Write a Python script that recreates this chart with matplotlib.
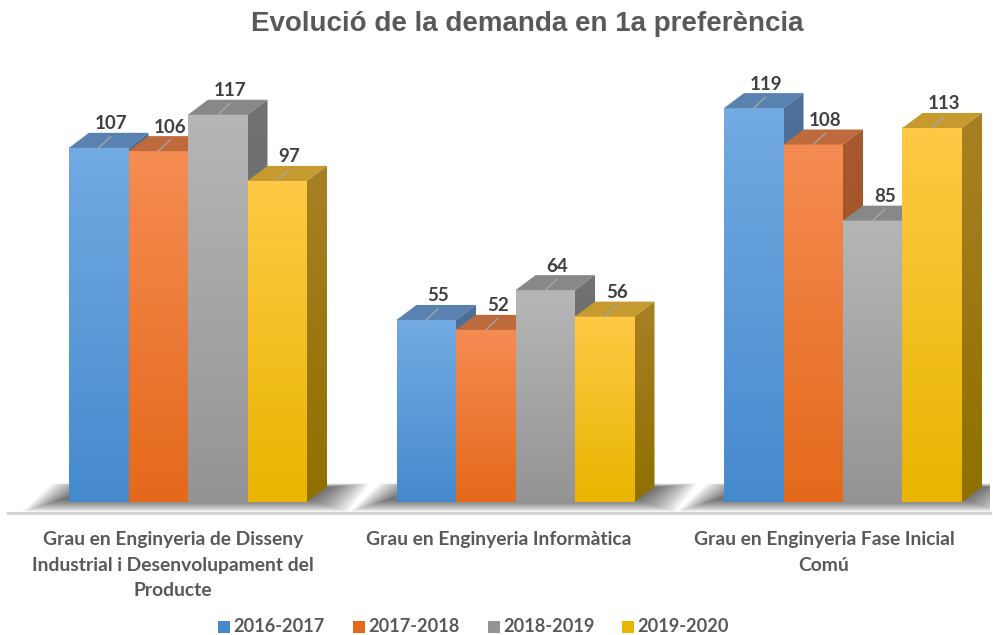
import numpy as np
import matplotlib
matplotlib.use('Agg')
import matplotlib.pyplot as plt
from matplotlib.patches import Polygon, Rectangle
from matplotlib.colors import to_rgb

# dades
categories = ['Grau en Enginyeria de Disseny\nIndustrial i Desenvolupament del\nProducte',
              'Grau en Enginyeria Informàtica',
              'Grau en Enginyeria Fase Inicial\nComú']
series = ['2016-2017', '2017-2018', '2018-2019', '2019-2020']
v_1617 = [107, 55, 119]
v_1718 = [106, 52, 108]
v_1819 = [117, 64, 85]
v_1920 = [97, 56, 113]
values = [v_1617, v_1718, v_1819, v_1920]

# colors: (front top, front bottom, top face, side top, side bottom)
colors = [
    ('#72AAE2', '#468ACE', '#5A82B0', '#4E7098', '#3C6A9E'),
    ('#F58C52', '#E4691B', '#BE6A3C', '#A8592E', '#9A4E1E'),
    ('#B6B6B6', '#949494', '#888888', '#727272', '#666666'),
    ('#FFC945', '#E9B500', '#C59A2E', '#A88024', '#8F7000'),
]
text_col = '#595959'
lbl_col = '#404040'

W, H = 993, 635
fig = plt.figure(figsize=(W / 100, H / 100), dpi=100)
ax = fig.add_axes([8 / W, (H - 514) / H, 982 / W, (514 - 40) / H])

px_x = 1 / 327.5          # data units per pixel (x)
px_y = 1 / 3.31           # data units per pixel (y)
w = 59.5 * px_x
dx = 20 * px_x
dy = 15 * px_y


def grad(c1, c2, n=64):
    a, b = np.array(to_rgb(c1)), np.array(to_rgb(c2))
    t = np.linspace(0, 1, n)[:, None]
    return (a * (1 - t) + b * t)[:, None, :]


# ombres sota cada grup
for g in range(len(categories)):
    x0 = g - 2 * w
    x1 = g + 2 * w
    for k in range(14):
        ex = k * 2.8 * px_x
        ey = k * 0.9 * px_y
        poly = [(x0 - ex - 10 * px_x, -ey + 2 * px_y), (x0 + dx - ex, dy + ey * 0.3),
                (x1 + dx + ex + 6 * px_x, dy + ey * 0.3), (x1 + ex + 4 * px_x, -ey + 2 * px_y)]
        ax.add_patch(Polygon(poly, closed=True, facecolor='black', alpha=0.05,
                             edgecolor='none', zorder=1))

# barres
for g in range(len(categories)):
    for i, s in enumerate(series):
        v = values[i][g]
        c = colors[i]
        x0 = g + (i - 2) * w
        x1 = x0 + w
        z = 2 + i * 0.1
        ax.imshow(grad(c[0], c[1]), extent=(x0, x1, 0, v), aspect='auto',
                  interpolation='bilinear', zorder=z)
        top = [(x0, v), (x0 + dx, v + dy), (x1 + dx, v + dy), (x1, v)]
        ax.add_patch(Polygon(top, closed=True, facecolor=c[2], edgecolor='none', zorder=z + 0.01))
        side = [(x1, 0), (x1, v), (x1 + dx, v + dy), (x1 + dx, dy)]
        sp = Polygon(side, closed=True, facecolor='none', edgecolor='none', zorder=z + 0.01)
        ax.add_patch(sp)
        im = ax.imshow(grad(c[3], c[4]), extent=(x1, x1 + dx, 0, v + dy), aspect='auto',
                       interpolation='bilinear', zorder=z + 0.01)
        im.set_clip_path(sp)
        xc = (x0 + x1) / 2
        ax.plot([xc, xc + dx * 0.6], [v, v + dy * 0.75], color='#a6a6a6', lw=1, zorder=z + 0.02)
        ax.text(xc + dx / 2 + 2 * px_x, v + dy + 9 * px_y, str(v), ha='center', va='center',
                fontsize=13.5, fontweight='bold', color=lbl_col, family='Lato', zorder=5)

ax.set_xlim((8 - 188) * px_x, (990 - 188) * px_x)
ax.set_ylim(-12 * px_y, (502 - 40) * px_y)
ax.axis('off')

# línia de l'eix
fig.add_artist(plt.Line2D([8 / W, 990 / W], [(H - 513) / H] * 2, color='#d6d6d6', lw=2.2))

# etiquetes de categoria
for g, cat in enumerate(categories):
    xf = (188 - 15 + g * 325.5) / W
    fig.text(xf, (H - 531) / H, cat, ha='center', va='top', fontsize=13.9,
             fontweight='bold', color=text_col, family='Lato', linespacing=1.62)

# títol
fig.text(527 / W, (H - 24) / H, 'Evolució de la demanda en 1a preferència', ha='center',
         va='center', fontsize=20, fontweight='bold', color=text_col, family='Liberation Sans')

# llegenda
leg_x = [218, 353, 488, 622]
for i, s in enumerate(series):
    fig.patches.append(Rectangle((leg_x[i] / W, (H - 633) / H), 12 / W, 12 / H,
                                 transform=fig.transFigure, facecolor=colors[i][1],
                                 edgecolor='none'))
    fig.text((leg_x[i] + 15) / W, (H - 627) / H, s, ha='left', va='center', fontsize=13.1,
             fontweight='bold', color=text_col, family='Lato')

fig.savefig('out.png', dpi=100)
